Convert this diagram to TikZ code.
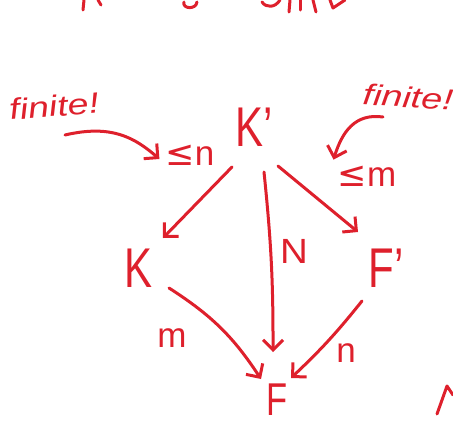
\documentclass[tikz,border=0pt]{standalone}
\usepackage{fontspec}
\setmainfont{Liberation Sans}
\newfontfamily\symf{DejaVu Sans}
\usetikzlibrary{arrows.meta,calc}
\definecolor{ink}{RGB}{222,32,44}
\begin{document}
\begin{tikzpicture}[x=1pt,y=-1pt,
  ink/.style={draw=ink,line width=3pt,line cap=round,line join=round},
  arr/.style={ink,-{Straight Barb[length=10pt,width=20pt,line width=3pt]}},
  big/.style={text=ink,inner sep=0pt,xscale=0.75,font=\fontsize{56}{60}\selectfont},
  lab/.style={text=ink,inner sep=0pt,font=\fontsize{35}{38}\selectfont},
  note/.style={text=ink,inner sep=0pt,xscale=1.3,font=\itshape\fontsize{29}{32}\selectfont}]
\useasboundingbox (0,0) rectangle (453,426);
% nodes
\node[big] (Kp) at (254,127) {K'};
\node[big] (K) at (139,268) {K};
\node[big] (Fp) at (386,268) {F'};
\node[big,font=\fontsize{46}{50}\selectfont] (F) at (277,400) {F};
\node[lab] (len) at (190,155) {{\symf ≤}n};
\node[lab] (lem) at (367,176) {{\symf ≤}m};
\node[note,rotate=6] (finl) at (54,106) {finite!};
\node[note,rotate=-4] (finr) at (408,97) {finite!};
\node[lab,xscale=1.1] (N) at (294,251) {N};
\node[lab] (m) at (172,338) {m};
\node[lab] (n) at (346,353) {n};
% connectors
\draw[arr] ($(Kp)+(-22,40)$) -- ($(K)+(24,-30)$);
\draw[arr] ($(Kp)+(10,45)$) to[bend left=3] ($(F)+(-4,-48)$);
\draw[arr] ($(Kp)+(24,39)$) -- ($(Fp)+(-28,-36)$);
\draw[arr] ($(K)+(30,20)$) to[bend left=12] ($(F)+(-16,-21)$);
\draw[arr] ($(Fp)+(-24,33)$) to[bend left=4] ($(F)+(14,-22)$);
% annotation arrows
\draw[arr] ($(finl)+(11,29)$) .. controls (112,124) and (135,138) .. ($(len.west)+(-6,4)$);
\draw[arr] ($(finr)+(-25,20)$) .. controls (355,113) and (342,132) .. ($(lem.north west)+(-4,-6)$);
% cut-off fragments
\draw[ink] (84,0) -- (83,10);
\draw[ink] (98,0) -- (101,5);
\draw[ink] (184,2) .. controls (182,9) and (196,10) .. (197,2);
\draw[ink] (262,2) .. controls (266,8) and (275,8) .. (280,0);
\draw[ink] (290,0) -- (289,12);
\draw[ink] (300,0) -- (300,10);
\draw[ink] (313,0) -- (316,12);
\draw[ink] (330,0) -- (333,8) -- (345,0);
\draw[ink] (437,414) -- (447,386) -- (453,395);
\end{tikzpicture}
\end{document}
